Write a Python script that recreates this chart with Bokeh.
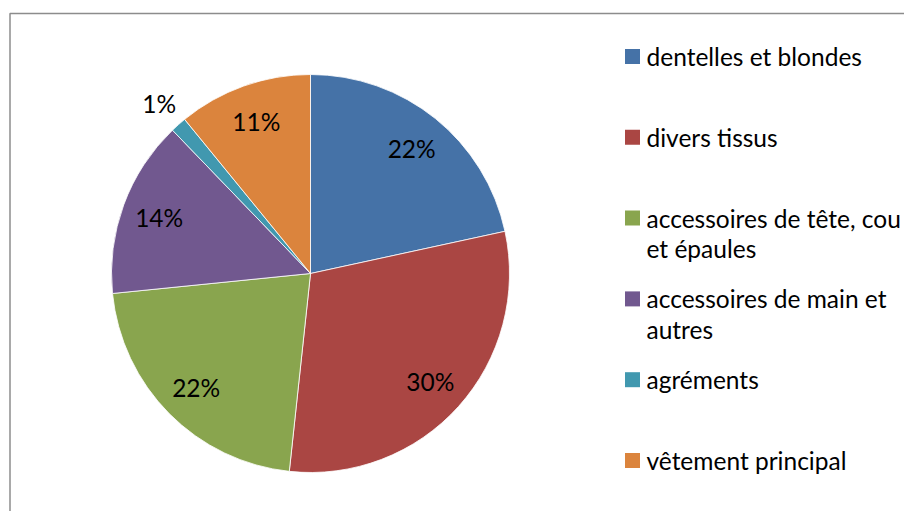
import math
import textwrap
import numpy as np
from bokeh.plotting import figure
from bokeh.models import Range1d, ColumnDataSource
from bokeh.embed import file_html
from bokeh.resources import INLINE
from bokeh.core.properties import value

# ---- data ----
categories = [
    "dentelles et blondes",
    "divers tissus",
    "accessoires de tête, cou et épaules",
    "accessoires de main et autres",
    "agréments",
    "vêtement principal",
]
shares = [21.6, 30.1, 21.7, 14.4, 1.3, 10.9]
colors = ["#4572A7", "#AA4643", "#89A54E", "#71588F", "#4198AF", "#DB843D"]

# ---- layout (pixel based, origin = top-left of the figure) ----
REF_H = 527
W, H = 904, 511
def Y(ys):
    return REF_H - ys

FONT = value("Lato")
FS = "24.5px"

p = figure(width=W, height=H, x_range=Range1d(0, W), y_range=Range1d(REF_H - H, REF_H),
           output_backend="svg", toolbar_location=None, min_border=0)
p.axis.visible = False
p.grid.visible = False
p.outline_line_color = None
p.background_fill_color = "white"
p.border_fill_color = "white"

# chart frame (left and top edges visible)
p.line(x=[9.5, 9.5, 1000], y=[Y(600), Y(13), Y(13)], line_color="#8c8c8c", line_width=1.5)

# ---- pie ----
cx, cy, R = 310, Y(273), 199
vals = np.array(shares, dtype=float)
frac = vals / vals.sum()
cum_after = np.cumsum(frac)
cum_before = cum_after - frac
start = math.pi / 2 - 2 * math.pi * cum_before
end = math.pi / 2 - 2 * math.pi * cum_after
src = ColumnDataSource(dict(start=start, end=end, color=colors, cat=categories))
p.wedge(x=cx, y=cy, radius=R, start_angle="start", end_angle="end", direction="clock",
        fill_color="color", line_color="white", line_width=0.8, source=src)

mid = math.pi / 2 - 2 * math.pi * (cum_before + frac / 2)
lr = np.where(frac < 0.03, R * 1.145, R * 0.81)
lx = cx + lr * np.cos(mid)
ly = cy + lr * np.sin(mid)
ltxt = [f"{round(v)}%" for v in frac * 100]
p.text(x=lx, y=ly, text=ltxt, text_align="center", text_baseline="middle",
       text_font=FONT, text_font_size=FS, text_color="black")

# ---- legend ----
lg_x_marker = 632
lg_x_text = 646
lg_y0 = 56
lg_step = 80.8
line_h = 30.5
mk_x, mk_y, mk_c = [], [], []
tx, ty, tt = [], [], []
for i, (cat, col) in enumerate(zip(categories, colors)):
    y0 = lg_y0 + i * lg_step
    mk_x.append(lg_x_marker)
    mk_y.append(Y(y0))
    mk_c.append(col)
    for j, line in enumerate(textwrap.wrap(cat, width=24)):
        tx.append(lg_x_text)
        ty.append(Y(y0 + j * line_h))
        tt.append(line)
p.scatter(x=mk_x, y=mk_y, marker="square", size=15, fill_color=mk_c, line_color=None)
p.text(x=tx, y=ty, text=tt, text_align="left", text_baseline="middle",
       text_font=FONT, text_font_size=FS, text_color="black")

open("out.html", "w").write(file_html(p, INLINE))
